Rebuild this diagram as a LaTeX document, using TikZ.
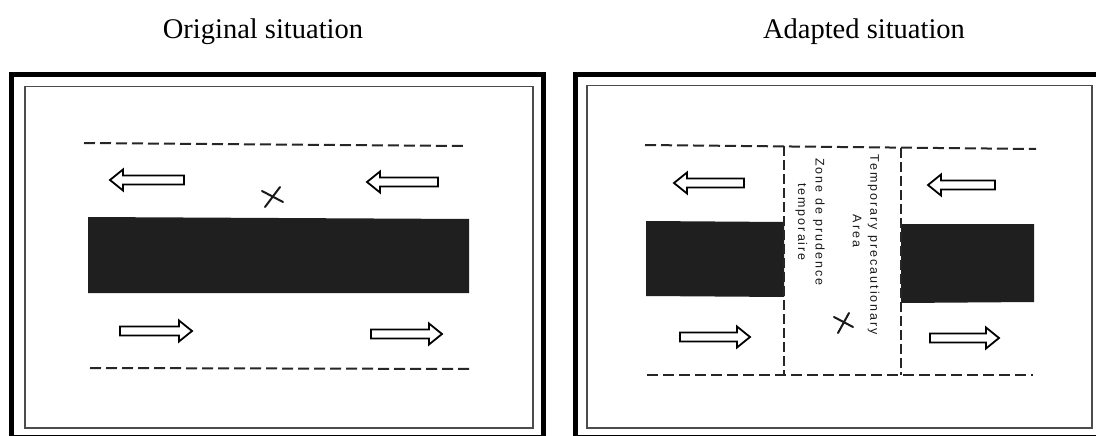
\documentclass[tikz,border=0pt]{standalone}
\usepackage{fontspec}
\setmainfont{Liberation Serif}
\setsansfont{Liberation Sans}
\tikzset{
  frameout/.style={line width=5pt, draw=black},
  framein/.style={line width=1.6pt, draw=black!70},
  laneline/.style={line width=2pt, dash pattern=on 11pt off 5pt, draw=black!85},
  zoneline/.style={line width=1.8pt, dash pattern=on 10pt off 4pt, draw=black!85},
  island/.style={fill=black!88},
  xmark/.style={line width=2pt, line cap=round, draw=black!90},
  headtitle/.style={font=\fontsize{28.5}{32}\selectfont, anchor=base, text=black, inner sep=0pt},
  zonelabel/.style={rotate=-90, align=center, text=black!90, inner sep=0pt,
    font=\sffamily\fontsize{12.5}{17.5}\selectfont\addfontfeature{LetterSpace=16}},
  % hollow traffic-direction arrow of length #1, pointing along +x
  pics/flowarrow/.style={code={
    \draw[line width=1.8pt, fill=white]
      (0,-4.5) -- (#1-13,-4.5) -- (#1-13,-10.5) -- (#1,0) --
      (#1-13,10.5) -- (#1-13,4.5) -- (0,4.5) -- cycle;}}
}
\begin{document}
\begin{tikzpicture}[x=1pt,y=-1pt]
\useasboundingbox[fill=white] (0,0) rectangle (1096,436);

% ---------- titles ----------
\node[headtitle] (ttl-orig) at (263,39) {Original situation};
\node[headtitle] (ttl-adapt) at (864,39) {Adapted situation};

% ---------- original situation ----------
\draw[frameout] (11.5,74.5) rectangle (543.5,437.5);
\draw[framein] (25,86.5) rectangle (533,428);
\draw[laneline] (84,143) -- (466,146);
\draw[laneline] (90,368) -- (470,369);
\fill[island] (88,217) -- (469,219) -- (469,293) -- (88,293) -- cycle;
\pic[rotate=180] at (184,180) {flowarrow=74};
\pic[rotate=180] at (438,182) {flowarrow=71};
\pic at (120,331) {flowarrow=72};
\pic at (371,334) {flowarrow=71};
\draw[xmark] (280,187) -- (265,207);
\draw[xmark] (262,191) -- (283,202);

% ---------- adapted situation ----------
\draw[frameout] (575,75) rectangle (1105,437.5);
\draw[framein] (587,85.5) rectangle (1092,428);
\draw[laneline] (645,145) -- (1036,149);
\draw[laneline] (647,375) -- (1033,375);
\fill[island] (646,221) -- (784,222) -- (784,297) -- (646,296) -- cycle;
\fill[island] (901,224) -- (1034,224) -- (1034,302) -- (901,303) -- cycle;
\draw[zoneline] (784,146) -- (784,375);
\draw[zoneline] (901,148) -- (901,375);
\pic[rotate=180] at (744,183) {flowarrow=70};
\pic[rotate=180] at (995,185) {flowarrow=67};
\pic at (680,337) {flowarrow=70};
\pic at (930,338) {flowarrow=69};
\draw[xmark] (849,313) -- (838,333);
\draw[xmark] (834,317) -- (853,327);

\node[zonelabel] (zone-fr) at (810,222) {Zone de prudence\\temporaire};
\node[zonelabel] (zone-en) at (866,245) {Temporary precautionary\\Area\hspace*{28pt}};
\end{tikzpicture}
\end{document}
